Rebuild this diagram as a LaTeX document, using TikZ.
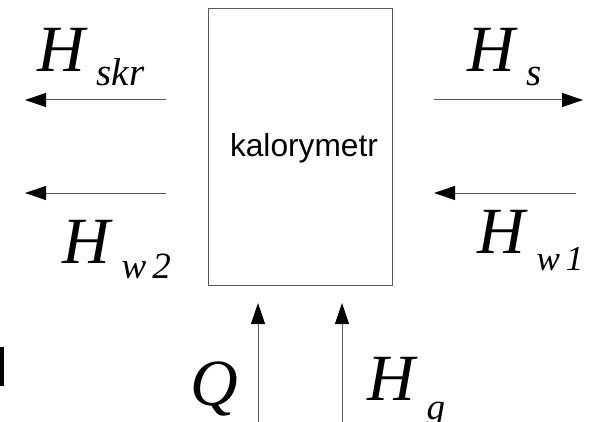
\documentclass[tikz,border=0pt]{standalone}
\usepackage{fontspec}
\setmainfont{Liberation Serif}
\newfontfamily\arialf{Liberation Sans}
\usetikzlibrary{arrows.meta}
\tikzset{
  flow/.style={draw=black!65, line width=1pt, -{Triangle[length=21pt,width=14pt,fill=black,color=black]}},
  lbl/.style={anchor=base west, inner sep=0pt, outer sep=0pt},
  boxst/.style={draw=black!65, line width=1.1pt, inner sep=0pt}
}
\newcommand{\Hlab}[3]{{\fontsize{66}{66}\selectfont\itshape H}\hspace{12pt}\raisebox{#2}{\fontsize{#3}{#3}\selectfont\itshape #1}}
\begin{document}
\begin{tikzpicture}[x=1pt,y=-1pt]
\useasboundingbox (0,0) rectangle (593,422);
% box
\node[boxst, minimum width=184pt, minimum height=277pt, anchor=north west] (kal) at (208,8) {};
\node[lbl] (kaltxt) at (230,157) {\arialf\fontsize{31.7}{32}\selectfont kalorymetr};
% coordinates
\coordinate (a1s) at (166,100); \coordinate (a1e) at (25,100);
\coordinate (a2s) at (166,193); \coordinate (a2e) at (25,193);
\coordinate (a3s) at (434,100); \coordinate (a3e) at (583,100);
\coordinate (a4s) at (576,193); \coordinate (a4e) at (434,193);
\coordinate (a5s) at (258,422); \coordinate (a5e) at (258,303);
\coordinate (a6s) at (342,422); \coordinate (a6e) at (342,303);
\draw[flow] (a1s) -- (a1e);
\draw[flow] (a2s) -- (a2e);
\draw[flow] (a3s) -- (a3e);
\draw[flow] (a4s) -- (a4e);
\draw[flow] (a5s) -- (a5e);
\draw[flow] (a6s) -- (a6e);
% labels
\node[lbl] (hskr) at (37,72) {\Hlab{skr}{-14pt}{39}};
\node[lbl] (hs) at (467,72) {\Hlab{s}{-14pt}{39}};
\node[lbl] (hw2) at (62,263) {\Hlab{w\,2}{-15pt}{37}};
\node[lbl] (hw1) at (477,253) {\Hlab{w\,1}{-17pt}{35}};
\node[lbl] (q) at (190,405) {\fontsize{66}{66}\selectfont\itshape Q};
\node[lbl] (hg) at (367,400) {\Hlab{g}{-19pt}{37}};
% stray bar at left edge
\coordinate (b1) at (2,347); \coordinate (b2) at (2,386);
\draw[line width=4pt, black] (b1) -- (b2);
\end{tikzpicture}
\end{document}
